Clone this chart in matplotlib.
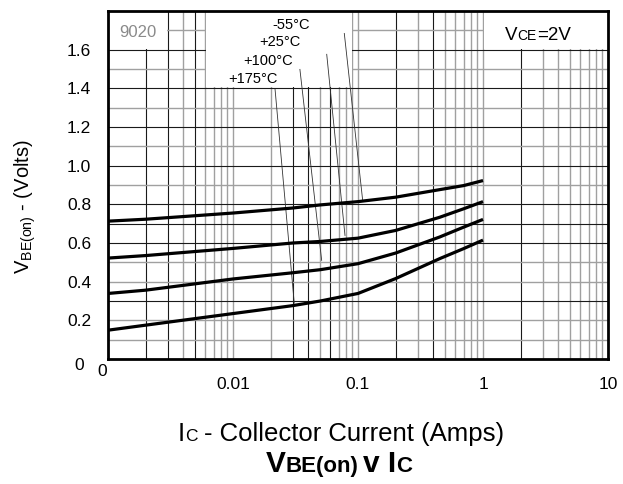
import matplotlib
matplotlib.use('Agg')
import matplotlib.pyplot as plt
from matplotlib.patches import Rectangle
from matplotlib.transforms import IdentityTransform

plt.rcParams['font.family'] = ['Liberation Sans', 'DejaVu Sans']
plt.rcParams['mathtext.fontset'] = 'custom'
plt.rcParams['mathtext.rm'] = 'Liberation Sans'

# collector current (A) and base-emitter voltage (V)
ic = [0.001, 0.002, 0.01, 0.03, 0.05, 0.1, 0.2, 0.45, 0.7, 1.0]
vbe_m55 = [0.713, 0.723, 0.755, 0.781, 0.797, 0.814, 0.837, 0.876, 0.897, 0.923]
vbe_25 = [0.522, 0.535, 0.572, 0.600, 0.608, 0.625, 0.665, 0.733, 0.777, 0.814]
vbe_100 = [0.339, 0.356, 0.414, 0.446, 0.462, 0.493, 0.548, 0.631, 0.682, 0.722]
vbe_175 = [0.149, 0.175, 0.235, 0.276, 0.300, 0.339, 0.416, 0.519, 0.571, 0.615]
curves = [vbe_m55, vbe_25, vbe_100, vbe_175]

# temperature labels and their leader lines
temp_labels = ['-55°C', '+25°C', '+100°C', '+175°C']
label_x = [0.0413, 0.0344, 0.0302, 0.0229]
label_y = [1.727, 1.639, 1.541, 1.448]
lead_x0 = [0.0777, 0.0562, 0.0343, 0.0217]
lead_y0 = [1.684, 1.576, 1.498, 1.395]
lead_x1 = [0.109, 0.0787, 0.0512, 0.0309]
lead_y1 = [0.82, 0.639, 0.51, 0.289]

x_ticks = [0.01, 0.1, 1, 10]
x_tick_labels = ['0.01', '0.1', '1', '10']
y_ticks = [0.2, 0.4, 0.6, 0.8, 1.0, 1.2, 1.4, 1.6]
y_tick_labels = ['0.2', '0.4', '0.6', '0.8', '1.0', '1.2', '1.4', '1.6']

# grid of the scanned datasheet: some lines dark, most grey
dark_x = [0.002, 0.003, 0.005, 0.03, 0.04, 0.06, 0.2, 0.4, 2]
dark_y = [0.3, 0.6, 0.7, 0.8, 1.0, 1.2, 1.4, 1.6]
# white boxes that hide the grid behind the notes (x0, x1, y0, y1)
boxes = [(0.001, 0.00295, 1.605, 1.8), (0.0061, 0.089, 1.405, 1.8), (1.02, 10, 1.605, 1.8)]


def text_run(fig, x, y, parts, center=True):
    # draws pieces of text of different sizes one after another, in pixels
    r = fig.canvas.get_renderer()
    arts = []
    for s, size, bold, gap in parts:
        t = fig.text(0, 0, s, fontsize=size, fontweight='bold' if bold else 'normal',
                     transform=IdentityTransform(), va='baseline')
        arts.append((t, gap))
    widths = [t.get_window_extent(r).width for t, g in arts]
    total = sum(widths) + sum(g for t, g in arts)
    xx = x - total / 2 if center else x
    for (t, g), w in zip(arts, widths):
        t.set_position((xx, y))
        xx += w + g


fig = plt.figure(figsize=(6.23, 4.84), dpi=100)
ax = fig.add_axes([108 / 623, 125 / 484, 500 / 623, 348 / 484])
ax.set_xscale('log')
ax.set_xlim(0.001, 10)
ax.set_ylim(0, 1.8)

for d in [0.001, 0.01, 0.1, 1]:
    for k in range(1, 10):
        xv = round(d * k, 6)
        if xv <= 0.001:
            continue
        if xv in dark_x:
            ax.axvline(xv, color='#1a1a1a', lw=0.8, zorder=1)
        else:
            ax.axvline(xv, color='#a0a0a0', lw=1.0, zorder=1)
for i in range(1, 18):
    yv = round(i * 0.1, 1)
    if yv in dark_y:
        ax.axhline(yv, color='#1a1a1a', lw=0.8, zorder=1)
    else:
        ax.axhline(yv, color='#a0a0a0', lw=1.0, zorder=1)

for x0, x1, y0, y1 in boxes:
    ax.add_patch(Rectangle((x0, y0), x1 - x0, y1 - y0, facecolor='white',
                           edgecolor='none', zorder=2))

for v in curves:
    ax.plot(ic, v, color='black', lw=2.3, solid_capstyle='butt', zorder=4)

for i in range(4):
    ax.plot([lead_x0[i], lead_x1[i]], [lead_y0[i], lead_y1[i]], color='#333333', lw=0.6, zorder=3)
    ax.text(label_x[i], label_y[i], temp_labels[i], fontsize=10.5, ha='right', va='center', zorder=5)

ax.text(0.00174, 1.69, '9020', fontsize=12, color='#8a8a8a', ha='center', va='center', zorder=5)

ax.set_xticks(x_ticks)
ax.set_xticklabels(x_tick_labels)
ax.set_yticks(y_ticks)
ax.set_yticklabels(y_tick_labels)
ax.minorticks_off()
ax.tick_params(axis='x', length=0, pad=13, labelsize=12.5)
ax.tick_params(axis='y', length=0, pad=12, labelsize=12.5)
for s in ax.spines.values():
    s.set_linewidth(2)
    s.set_color('black')
    s.set_zorder(6)

# the "0" labels at the lower left corner
fig.text(79, 484 - 366, '0', fontsize=12.5, ha='center', va='center', transform=IdentityTransform())
fig.text(102, 484 - 372, '0', fontsize=12.5, ha='center', va='center', transform=IdentityTransform())

fig.text(25, 484 - 207, r'V$_{\mathrm{BE(on)}}$ - (Volts)', fontsize=14.5, rotation=90,
         ha='center', va='center', transform=IdentityTransform())

text_run(fig, 538, 484 - 40, [('V', 13.5, False, 0), ('CE', 10, False, 0), ('=2V', 13.5, False, 0)])
text_run(fig, 341, 484 - 441, [('I', 18.5, False, 0), ('C', 12.5, False, 6),
                               ('- Collector Current (Amps)', 18.5, False, 0)])
text_run(fig, 339, 484 - 472, [('V', 21.5, True, 0), ('BE(on)', 16, True, 5), ('v I', 21.5, True, 0),
                               ('C', 16, True, 0)])

fig.savefig('out.png', dpi=100)
